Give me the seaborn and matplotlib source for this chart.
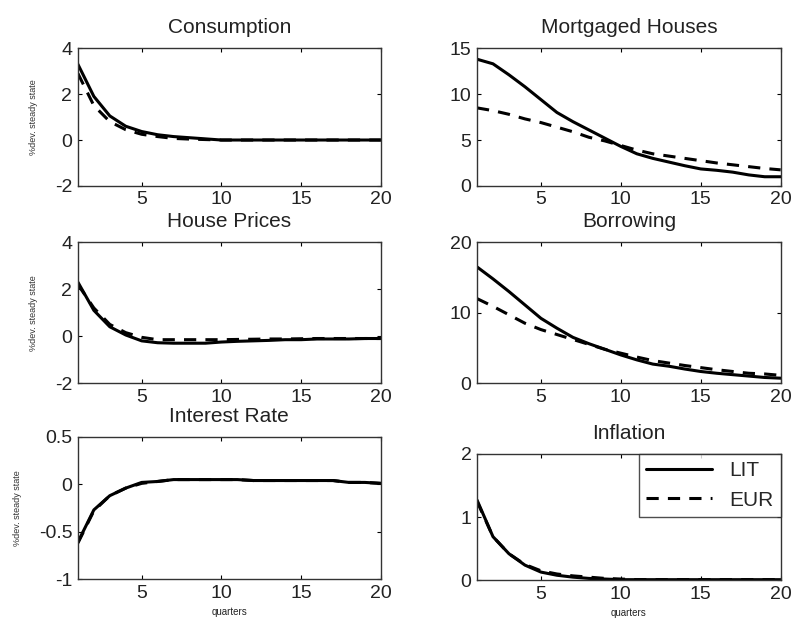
import numpy as np
import pandas as pd
import matplotlib
matplotlib.use('Agg')
import matplotlib.pyplot as plt
import seaborn as sns

quarters = list(range(1, 21))

cons_lit = [3.3, 1.9, 1.05, 0.6, 0.37, 0.23, 0.15, 0.1, 0.05, 0.0, 0.0, 0.0, 0.0, 0.0, 0.0, 0.0, 0.0, 0.0, 0.0, 0.0]
cons_eur = [2.9, 1.5, 0.8, 0.45, 0.25, 0.15, 0.07, 0.04, 0.02, 0.0, 0.0, 0.0, 0.0, 0.0, 0.0, 0.0, 0.0, 0.0, 0.0, 0.0]

mort_lit = [13.8, 13.3, 12.1, 10.8, 9.4, 8.0, 7.0, 6.1, 5.2, 4.3, 3.5, 3.0, 2.6, 2.2, 1.85, 1.7, 1.5, 1.2, 1.0, 1.0]
mort_eur = [8.5, 8.2, 7.8, 7.3, 6.9, 6.4, 5.9, 5.3, 4.9, 4.4, 3.9, 3.5, 3.25, 3.0, 2.75, 2.5, 2.3, 2.1, 1.9, 1.75]

hp_lit = [2.3, 1.1, 0.4, 0.05, -0.2, -0.28, -0.3, -0.3, -0.3, -0.25, -0.22, -0.2, -0.18, -0.15, -0.15, -0.12, -0.12, -0.12, -0.1, -0.1]
hp_eur = [2.2, 1.2, 0.5, 0.15, -0.05, -0.15, -0.15, -0.15, -0.15, -0.15, -0.14, -0.13, -0.12, -0.12, -0.11, -0.1, -0.1, -0.1, -0.1, -0.1]

borr_lit = [16.5, 14.8, 13.0, 11.1, 9.2, 7.8, 6.5, 5.6, 4.8, 4.0, 3.3, 2.7, 2.4, 2.0, 1.65, 1.4, 1.2, 1.0, 0.8, 0.7]
borr_eur = [12.0, 10.9, 9.7, 8.5, 7.6, 6.9, 6.2, 5.5, 4.8, 4.25, 3.7, 3.2, 2.85, 2.5, 2.2, 1.9, 1.65, 1.4, 1.3, 1.1]

ir_lit = [-0.61, -0.27, -0.12, -0.04, 0.02, 0.03, 0.05, 0.05, 0.05, 0.05, 0.05, 0.04, 0.04, 0.04, 0.04, 0.04, 0.04, 0.02, 0.02, 0.01]
ir_eur = [-0.62, -0.28, -0.12, -0.04, 0.01, 0.03, 0.05, 0.05, 0.05, 0.05, 0.05, 0.04, 0.04, 0.04, 0.04, 0.04, 0.04, 0.02, 0.02, 0.01]

inf_lit = [1.27, 0.69, 0.42, 0.24, 0.13, 0.08, 0.05, 0.03, 0.02, 0.01, 0.01, 0.01, 0.01, 0.01, 0.01, 0.01, 0.01, 0.01, 0.01, 0.01]
inf_eur = [1.25, 0.69, 0.42, 0.25, 0.15, 0.1, 0.07, 0.05, 0.03, 0.02, 0.01, 0.01, 0.01, 0.01, 0.01, 0.01, 0.01, 0.01, 0.01, 0.01]

titles = ['Consumption', 'Mortgaged Houses', 'House Prices', 'Borrowing', 'Interest Rate', 'Inflation']
series = [(cons_lit, cons_eur), (mort_lit, mort_eur), (hp_lit, hp_eur),
          (borr_lit, borr_eur), (ir_lit, ir_eur), (inf_lit, inf_eur)]
ylims = [(-2, 4), (0, 15), (-2, 4), (0, 20), (-1, 0.5), (0, 2)]
yticks = [[-2, 0, 2, 4], [0, 5, 10, 15], [-2, 0, 2, 4], [0, 10, 20], [-1, -0.5, 0, 0.5], [0, 1, 2]]
ytlabels = [['-2', '0', '2', '4'], ['0', '5', '10', '15'], ['-2', '0', '2', '4'],
            ['0', '10', '20'], ['-1', '-0.5', '0', '0.5'], ['0', '1', '2']]

# axes boxes [left, bottom, width, height] in figure fraction
boxes = [[0.098, 0.703, 0.381, 0.220], [0.600, 0.703, 0.382, 0.220],
         [0.098, 0.388, 0.381, 0.225], [0.600, 0.388, 0.382, 0.225],
         [0.098, 0.075, 0.381, 0.227], [0.600, 0.073, 0.382, 0.202]]

sns.set_style('ticks')
plt.rcParams['font.family'] = ['Liberation Sans', 'DejaVu Sans']
plt.rcParams['axes.linewidth'] = 1.0

fig = plt.figure(figsize=(7.95, 6.26), dpi=100)

for i in range(6):
    ax = fig.add_axes(boxes[i])
    lit, eur = series[i]
    df = pd.DataFrame({'q': quarters + quarters, 'v': lit + eur,
                       'policy': ['LIT'] * 20 + ['EUR'] * 20})
    sns.lineplot(data=df[df.policy == 'LIT'], x='q', y='v', ax=ax, color='black',
                 lw=2.2, label='LIT')
    sns.lineplot(data=df[df.policy == 'EUR'], x='q', y='v', ax=ax, color='black',
                 lw=2.2, linestyle=(0, (4, 3)), label='EUR')
    ax.set_xlim(1, 20)
    ax.set_ylim(*ylims[i])
    ax.set_xticks([5, 10, 15, 20])
    ax.set_xticklabels(['5', '10', '15', '20'], fontsize=14)
    ax.set_yticks(yticks[i])
    ax.set_yticklabels(ytlabels[i], fontsize=14)
    ax.tick_params(direction='in', top=True, right=True, length=3, width=0.8,
                   colors='black', labelcolor='#222222', pad=4)
    for s in ax.spines.values():
        s.set_color('#333333')
    ax.set_title(titles[i], fontsize=15, color='#222222', pad=11)
    ax.set_xlabel('quarters' if i >= 4 else '', fontsize=7, color='#222222')
    ax.set_ylabel('%dev. steady state' if i % 2 == 0 else '', fontsize=6.5,
                  color='#333333', labelpad=12)
    if i == 5:
        leg = ax.legend(loc='upper right', fontsize=15, frameon=True, fancybox=False,
                        edgecolor='#222222', handlelength=3.2, borderpad=0.35,
                        labelspacing=0.5, borderaxespad=0)
        leg.get_frame().set_linewidth(1.0)
    else:
        ax.get_legend().remove()

plt.savefig('out.png', dpi=100)
